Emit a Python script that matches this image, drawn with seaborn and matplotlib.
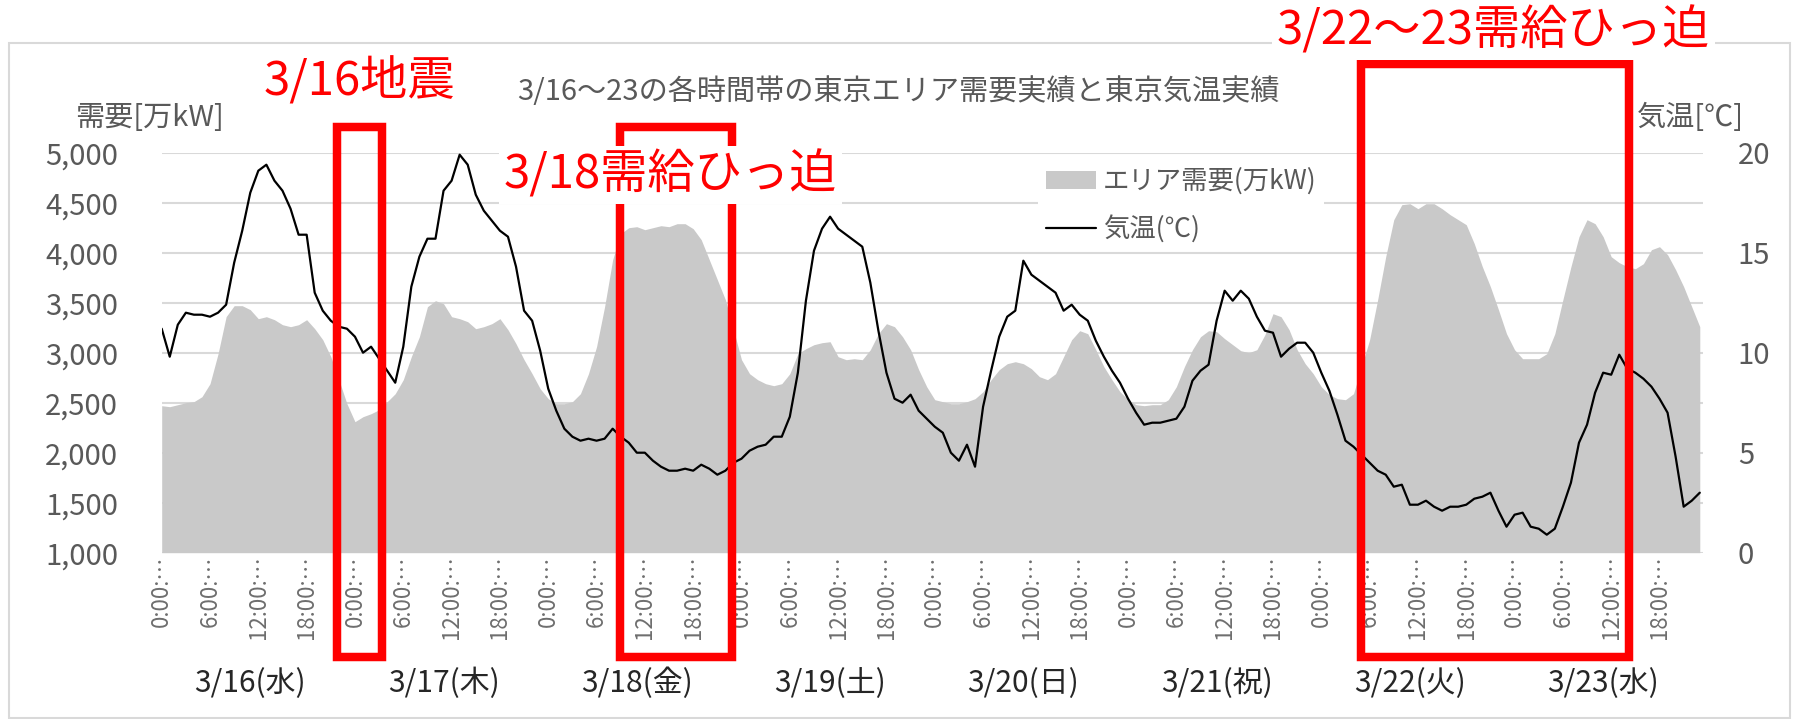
import numpy as np
import pandas as pd
import matplotlib.pyplot as plt
import seaborn as sns
from matplotlib.patches import Patch, Rectangle
from matplotlib.lines import Line2D
from matplotlib.ticker import MultipleLocator, FuncFormatter

plt.switch_backend('Agg')

# hourly data, 3/16 0:00 .. 3/23 23:00
demand = [
    2470, 2460, 2480, 2500, 2510, 2560, 2690, 2990, 3360, 3470, 3470, 3430, 3340, 3360, 3330, 3280,
    3260, 3280, 3330, 3240, 3130, 2960, 2730, 2490, 2310, 2360, 2390, 2430, 2510, 2590, 2730, 2960,
    3160, 3460, 3520, 3490, 3360, 3340, 3310, 3240, 3260, 3290, 3340, 3230, 3090, 2930, 2790, 2640,
    2540, 2490, 2490, 2510, 2590, 2790, 3060, 3460, 3930, 4190, 4250, 4260, 4230, 4250, 4270, 4260,
    4290, 4290, 4240, 4130, 3930, 3730, 3530, 3230, 2930, 2790, 2730, 2690, 2670, 2690, 2790, 2990,
    3040, 3080, 3100, 3110, 2960, 2930, 2940, 2930, 3030, 3190, 3290, 3260, 3160, 3030, 2830, 2660,
    2530, 2510, 2490, 2490, 2510, 2540, 2610, 2730, 2830, 2890, 2910, 2890, 2840, 2760, 2730, 2790,
    2960, 3130, 3220, 3190, 3030, 2860, 2730, 2610, 2530, 2480, 2470, 2480, 2480, 2530, 2660, 2860,
    3030, 3160, 3220, 3210, 3140, 3080, 3020, 3000, 3030, 3180, 3390, 3360, 3230, 3030, 2890, 2790,
    2660, 2580, 2540, 2530, 2590, 2860, 3130, 3530, 3960, 4330, 4480, 4490, 4440, 4490, 4490, 4440,
    4380, 4330, 4280, 4090, 3860, 3660, 3430, 3190, 3030, 2940, 2940, 2940, 2990, 3190, 3530, 3860,
    4160, 4330, 4290, 4160, 3960, 3900, 3860, 3840, 3890, 4030, 4060, 3980, 3830, 3660, 3460, 3260,
]
temp = [
    11.2, 9.8, 11.4, 12.0, 11.9, 11.9, 11.8, 12.0, 12.4, 14.5, 16.1, 18.0, 19.1, 19.4, 18.6, 18.1,
    17.2, 15.9, 15.9, 13.0, 12.1, 11.6, 11.3, 11.2, 10.8, 10.0, 10.3, 9.7, 9.1, 8.5, 10.3, 13.3,
    14.8, 15.7, 15.7, 18.1, 18.6, 19.9, 19.4, 17.9, 17.1, 16.6, 16.1, 15.8, 14.3, 12.1, 11.6, 10.1,
    8.2, 7.1, 6.2, 5.8, 5.6, 5.7, 5.6, 5.7, 6.2, 5.8, 5.5, 5.0, 5.0, 4.6, 4.3, 4.1,
    4.1, 4.2, 4.1, 4.4, 4.2, 3.9, 4.1, 4.5, 4.7, 5.1, 5.3, 5.4, 5.8, 5.8, 6.8, 9.0,
    12.6, 15.1, 16.2, 16.8, 16.2, 15.9, 15.6, 15.3, 13.5, 11.1, 9.0, 7.7, 7.5, 7.9, 7.1, 6.7,
    6.3, 6.0, 5.0, 4.6, 5.4, 4.3, 7.3, 9.1, 10.8, 11.8, 12.1, 14.6, 13.9, 13.6, 13.3, 13.0,
    12.1, 12.4, 11.9, 11.6, 10.6, 9.8, 9.1, 8.5, 7.7, 7.0, 6.4, 6.5, 6.5, 6.6, 6.7, 7.3,
    8.6, 9.1, 9.4, 11.6, 13.1, 12.6, 13.1, 12.7, 11.8, 11.1, 11.0, 9.8, 10.2, 10.5, 10.5, 10.0,
    9.0, 8.1, 6.9, 5.6, 5.3, 4.9, 4.5, 4.1, 3.9, 3.3, 3.4, 2.4, 2.4, 2.6, 2.3, 2.1,
    2.3, 2.3, 2.4, 2.7, 2.8, 3.0, 2.1, 1.3, 1.9, 2.0, 1.3, 1.2, 0.9, 1.2, 2.3, 3.5,
    5.5, 6.4, 8.0, 9.0, 8.9, 9.9, 9.2, 9.0, 8.7, 8.3, 7.7, 7.0, 4.8, 2.3, 2.6, 3.0,
]
days = ['3/16(水)', '3/17(木)', '3/18(金)', '3/19(土)', '3/20(日)', '3/21(祝)', '3/22(火)', '3/23(水)']
tick_hours = list(range(0, 192, 6))
tick_labels = [f'{h % 24}:00:…' for h in tick_hours]

# highlighted spans (hours) and their notes
spans = [(21.8, 27.4), (56.9, 70.8), (148.9, 182.2)]
notes = ['3/16地震', '3/18需給ひっ迫', '3/22～23需給ひっ迫']

title = '3/16～23の各時間帯の東京エリア需要実績と東京気温実績'

df = pd.DataFrame({'hour': np.arange(len(demand)), 'demand': demand, 'temp': temp})

sns.set_theme(style='white')
plt.rcParams['font.family'] = ['Noto Sans CJK JP', 'DejaVu Sans']

AREA = '#c9c9c9'
GREY_TXT = '#595959'
W, H = 1793, 719

fig = plt.figure(figsize=(W / 100, H / 100), dpi=100)
ax = fig.add_axes([161.7 / W, (H - 552.7) / H, (1703 - 161.7) / W, 400 / H])

# outer chart frame
fig.patches.append(Rectangle((9 / W, 0.002), (1790 - 9) / W, (H - 43) / H - 0.002,
                             transform=fig.transFigure, fill=False, ec='#d9d9d9', lw=1.5, zorder=-1))

ax.fill_between(df['hour'], df['demand'], 1000, color=AREA, lw=0, zorder=2)
ax.set_ylim(1000, 5000)
ax.yaxis.set_major_locator(MultipleLocator(500))
ax.yaxis.set_major_formatter(FuncFormatter(lambda v, p: f'{v:,.0f}'))
ax.grid(axis='y', color='#d9d9d9', lw=1.5)
ax.grid(axis='x', visible=False)
ax.set_axisbelow(True)
ax.set_xticks(tick_hours)
ax.set_xticklabels(tick_labels, rotation=90, ha='center', va='top')
ax.tick_params(axis='x', length=0, pad=2, labelsize=16, labelcolor='#6e6e6e')
ax.tick_params(axis='y', length=0, pad=31.5, labelsize=21, labelcolor=GREY_TXT)

ax2 = ax.twinx()
sns.lineplot(data=df, x='hour', y='temp', ax=ax2, color='black', lw=1.6, legend=False)
ax2.set_ylim(0, 20)
ax2.set_yticks([0, 5, 10, 15, 20])
ax2.tick_params(axis='y', length=0, pad=25, labelsize=21, labelcolor=GREY_TXT)
ax2.set_ylabel('')
ax.set_xlabel('')
ax.set_ylabel('')
ax.set_xlim(0, 191.4)

for a in (ax, ax2):
    for s in a.spines.values():
        s.set_visible(False)

# day labels under the hour ticks
for i, d in enumerate(days):
    ax.text(24 * i + 11, -0.326, d, transform=ax.get_xaxis_transform(),
            ha='center', va='center', fontsize=21.5, color='#262626')

fig.text(898 / W, 1 - 92 / H, title, ha='center', va='center', fontsize=21, color=GREY_TXT)
fig.text(150 / W, 1 - 118 / H, '需要[万kW]', ha='center', va='center', fontsize=21, color=GREY_TXT)
fig.text(1690 / W, 1 - 118 / H, '気温[℃]', ha='center', va='center', fontsize=21, color=GREY_TXT)

handles = [Patch(facecolor=AREA, edgecolor='none'), Line2D([], [], color='black', lw=1.6)]
leg = ax2.legend(handles, ['エリア需要(万kW)', '気温(℃)'], loc='upper left',
                 bbox_to_anchor=(1038 / W, 1 - 160 / H), bbox_transform=fig.transFigure,
                 fontsize=19, frameon=True, framealpha=1, edgecolor='none', facecolor='white',
                 borderpad=0.3, handlelength=1.9, handleheight=0.65, handletextpad=0.25,
                 labelspacing=0.74, borderaxespad=0)
for t in leg.get_texts():
    t.set_color(GREY_TXT)
leg.set_zorder(5)

# red highlight boxes with notes
tops = [1.064, 1.064, 1.221]
note_pos = [(24.5, 1.177), (63.2, 0.944), (165.4, 1.304)]
for (x0, x1), top, note, (nx, ny) in zip(spans, tops, notes, note_pos):
    ax2.add_patch(Rectangle((x0, -0.26), x1 - x0, top + 0.26, transform=ax2.get_xaxis_transform(),
                            fill=False, ec='#ff0000', lw=6.1, joinstyle='miter',
                            clip_on=False, zorder=10))
    ax2.text(nx, ny, note, transform=ax2.get_xaxis_transform(), ha='center', va='center',
             fontsize=34, color='#ff0000', zorder=11,
             bbox=dict(boxstyle='square,pad=0.1', fc='white', ec='none'))

fig.savefig('out.png', dpi=100)
plt.close(fig)
